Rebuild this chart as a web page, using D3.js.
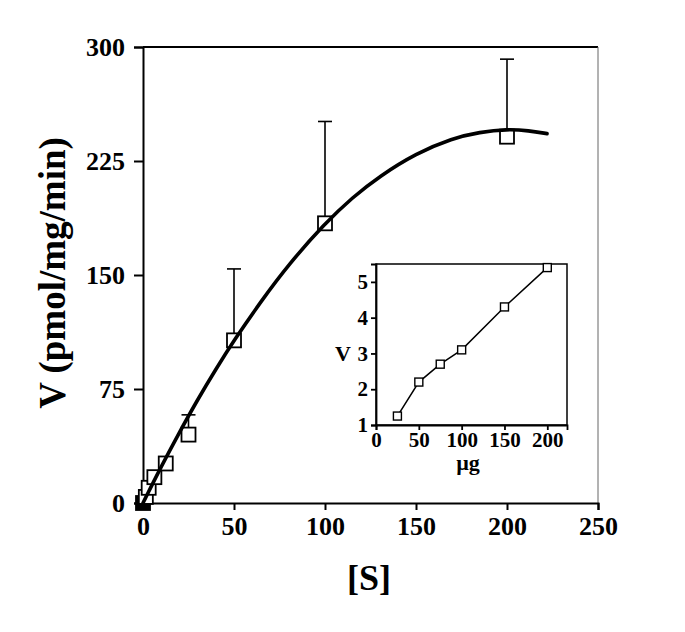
<!DOCTYPE html>
<html>
<head>
<meta charset="utf-8">
<script src="https://cdn.jsdelivr.net/npm/d3@7"></script>
<style>
  body { margin: 0; background: #fff; }
  text { font-family: "Liberation Serif", "Times New Roman", serif; font-weight: bold; fill: #000; }
</style>
</head>
<body>
<script>
// main plot data: [S] vs V, mean and upper SD
var conc = [0, 1.56, 3.125, 6.25, 12.5, 25, 50, 100, 200];
var rate = [0, 4, 10, 17, 26, 45, 107, 184, 241];
var sd   = [0, 0, 0, 0, 0, 13, 47, 67, 51];

// fitted curve
var fitS = [0, 10, 20, 30, 40, 50, 65, 80, 100, 115, 130, 150, 170, 185, 200, 212, 222];
var fitV = [0, 24, 46.5, 68, 88, 107, 133, 157, 184, 201, 215, 230, 240, 244, 246, 245, 243];

var xTicks = [0, 50, 100, 150, 200, 250];
var yTicks = [0, 75, 150, 225, 300];

// inset: V vs protein (ug)
var protein = [25, 50, 75, 100, 150, 200];
var insetV = [1.25, 2.2, 2.7, 3.1, 4.3, 5.4];
var inXTicks = [0, 50, 100, 150, 200];
var inYTicks = [1, 2, 3, 4, 5];

var svg = d3.select('body').append('svg')
  .attr('width', 685)
  .attr('height', 632);

var x = d3.scaleLinear().domain([0, 250]).range([143, 598]);
var y = d3.scaleLinear().domain([0, 300]).range([503, 47]);

// frame: top and right lines
svg.append('line')
  .attr('x1', x(0)).attr('x2', x(250))
  .attr('y1', y(300)).attr('y2', y(300))
  .attr('stroke', '#000').attr('stroke-width', 2);
svg.append('line')
  .attr('x1', x(250)).attr('x2', x(250))
  .attr('y1', y(300)).attr('y2', y(0))
  .attr('stroke', '#666').attr('stroke-width', 1);

var xAxis = svg.append('g')
  .attr('transform', 'translate(0,' + y(0) + ')')
  .call(d3.axisBottom(x).tickValues(xTicks).tickSize(7).tickPadding(7));
var yAxis = svg.append('g')
  .attr('transform', 'translate(' + x(0) + ',0)')
  .call(d3.axisLeft(y).tickValues(yTicks).tickSize(9).tickPadding(9));

[xAxis, yAxis].forEach(function(g) {
  g.attr('font-size', 26).attr('font-family', '"Liberation Serif", serif');
  g.select('.domain').attr('stroke-width', 2);
  g.selectAll('.tick line').attr('stroke-width', 2);
  g.selectAll('.tick text')
    .attr('font-weight', 'bold')
    .style('font-size', '26px');
});

// axis titles
svg.append('text')
  .attr('x', 369).attr('y', 590)
  .attr('text-anchor', 'middle')
  .style('font-size', '36px')
  .text('[S]');
svg.append('text')
  .attr('transform', 'translate(65,273) rotate(-90)')
  .attr('text-anchor', 'middle')
  .style('font-size', '37px')
  .text('V (pmol/mg/min)');

// error bars (upper only)
var pts = conc.map(function(c, i) { return {s: c, v: rate[i], e: sd[i], i: i}; });
var half = 7;
var eb = svg.append('g').selectAll('g').data(pts.filter(function(d) { return d.e > 0; }))
  .enter().append('g');
eb.append('line')
  .attr('x1', function(d) { return x(d.s); })
  .attr('x2', function(d) { return x(d.s); })
  .attr('y1', function(d) { return y(d.v) - half; })
  .attr('y2', function(d) { return y(d.v + d.e); })
  .attr('stroke', '#000').attr('stroke-width', 1.6);
eb.append('line')
  .attr('x1', function(d) { return x(d.s) - 7; })
  .attr('x2', function(d) { return x(d.s) + 7; })
  .attr('y1', function(d) { return y(d.v + d.e); })
  .attr('y2', function(d) { return y(d.v + d.e); })
  .attr('stroke', '#000').attr('stroke-width', 1.6);

// squares
svg.append('g').selectAll('rect').data(pts)
  .enter().append('rect')
  .attr('x', function(d) { return x(d.s) - half; })
  .attr('y', function(d) { return y(d.v) - half; })
  .attr('width', half * 2)
  .attr('height', half * 2)
  .attr('fill', function(d) { return d.i === 0 ? '#000' : '#fff'; })
  .attr('stroke', '#000')
  .attr('stroke-width', 1.8);

// fit curve
var fit = fitS.map(function(s, i) { return [s, fitV[i]]; });
svg.append('path')
  .datum(fit)
  .attr('fill', 'none')
  .attr('stroke', '#000')
  .attr('stroke-width', 3.6)
  .attr('stroke-linecap', 'round')
  .attr('d', d3.line()
    .x(function(d) { return x(d[0]); })
    .y(function(d) { return y(d[1]); })
    .curve(d3.curveBasis));

// ---- inset ----
var ix = d3.scaleLinear().domain([0, 223]).range([376, 567]);
var iy = d3.scaleLinear().domain([1, 5.5]).range([425, 264]);

svg.append('rect')
  .attr('x', ix(0)).attr('y', iy(5.5))
  .attr('width', ix(223) - ix(0))
  .attr('height', iy(1) - iy(5.5))
  .attr('fill', '#fff')
  .attr('stroke', '#000')
  .attr('stroke-width', 1.5);

var ixAxis = svg.append('g')
  .attr('transform', 'translate(0,' + iy(1) + ')')
  .call(d3.axisBottom(ix).tickValues(inXTicks).tickSize(5).tickPadding(2).tickFormat(d3.format('d')));
var iyAxis = svg.append('g')
  .attr('transform', 'translate(' + ix(0) + ',0)')
  .call(d3.axisLeft(iy).tickValues(inYTicks).tickSize(5).tickPadding(3).tickFormat(d3.format('d')));
[ixAxis, iyAxis].forEach(function(g) {
  g.attr('font-size', 21).attr('font-family', '"Liberation Serif", serif');
  g.select('.domain').attr('stroke-width', 1.8);
  g.selectAll('.tick line').attr('stroke-width', 1.8);
  g.selectAll('.tick text')
    .attr('font-weight', 'bold')
    .style('font-size', '21px');
});

svg.append('text')
  .attr('x', 343).attr('y', 361)
  .attr('text-anchor', 'middle')
  .style('font-size', '22px')
  .text('V');
svg.append('text')
  .attr('x', 468).attr('y', 470)
  .attr('text-anchor', 'middle')
  .style('font-size', '22px')
  .text('\u00b5g');

var ipts = protein.map(function(p, i) { return [p, insetV[i]]; });
svg.append('path')
  .datum(ipts)
  .attr('fill', 'none')
  .attr('stroke', '#000')
  .attr('stroke-width', 1.5)
  .attr('d', d3.line()
    .x(function(d) { return ix(d[0]); })
    .y(function(d) { return iy(d[1]); }));
svg.append('g').selectAll('rect').data(ipts)
  .enter().append('rect')
  .attr('x', function(d) { return ix(d[0]) - 4; })
  .attr('y', function(d) { return iy(d[1]) - 4; })
  .attr('width', 8)
  .attr('height', 8)
  .attr('fill', '#fff')
  .attr('stroke', '#000')
  .attr('stroke-width', 1.4);
</script>
</body>
</html>
